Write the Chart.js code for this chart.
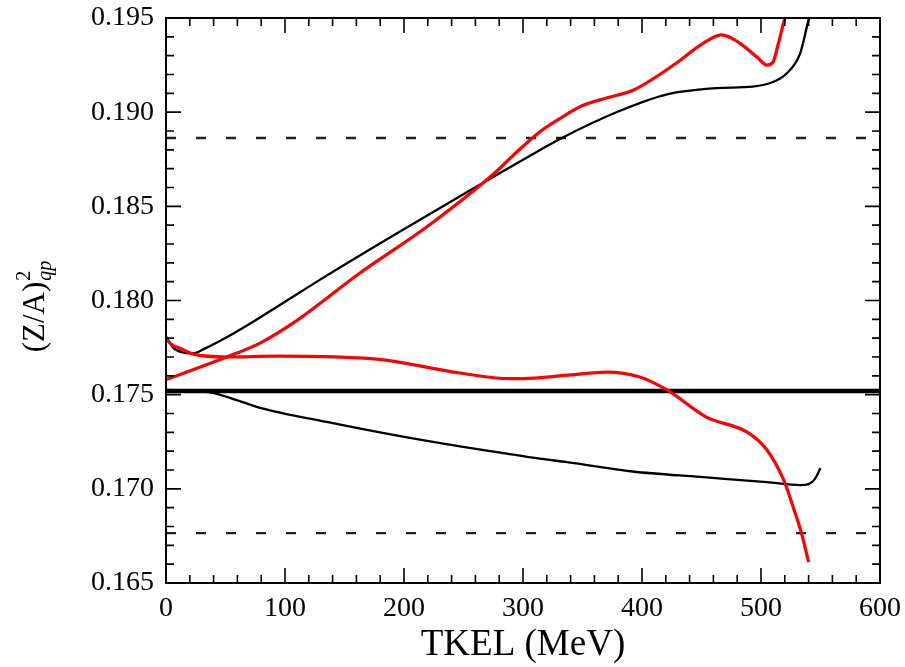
<!DOCTYPE html>
<html>
<head>
<meta charset="utf-8">
<script src="https://cdn.jsdelivr.net/npm/chart.js@4/dist/chart.umd.min.js"></script>
<style>
  html, body { margin: 0; padding: 0; background: #fff; }
  #c { display: block; }
</style>
</head>
<body>
<canvas id="c" width="905" height="667"></canvas>
<script>
// ---- data ----
const xTickLabels = ['0', '100', '200', '300', '400', '500', '600'];
const yTickLabels = ['0.165', '0.170', '0.175', '0.180', '0.185', '0.190', '0.195'];

const blackUpperX = [0, 6, 14, 23, 32, 51, 79, 135, 191, 247, 281, 314, 331, 379, 421, 463, 493, 510, 522, 533, 540, 543];
const blackUpperY = [0.1781, 0.1775, 0.17725, 0.1772, 0.17743, 0.17805, 0.1791, 0.18132, 0.18345, 0.18553, 0.18678, 0.18798, 0.18858, 0.19001, 0.19095, 0.19128, 0.19136, 0.1916, 0.19208, 0.19314, 0.1949, 0.1955];

const blackLowerX = [0, 25, 40, 60, 79, 135, 191, 247, 281, 314, 337, 392, 449, 505, 533, 540, 545, 550];
const blackLowerY = [0.17525, 0.1752, 0.17508, 0.1747, 0.1743, 0.17355, 0.17286, 0.17225, 0.17192, 0.1716, 0.17142, 0.17092, 0.17063, 0.17036, 0.1702, 0.17025, 0.1705, 0.1711];

const redUpperX = [0, 51, 79, 107, 163, 219, 275, 295, 314, 332, 350, 370, 393, 429, 450, 467, 482, 497, 505, 510, 514, 518, 522];
const redUpperY = [0.1758, 0.1770, 0.17774, 0.17881, 0.18146, 0.1839, 0.1867, 0.1879, 0.18895, 0.1897, 0.19035, 0.19075, 0.19118, 0.19261, 0.1936, 0.1941, 0.19367, 0.1929, 0.1925, 0.19265, 0.1935, 0.1945, 0.1955];

const redLowerX = [0, 5, 12, 23, 51, 93, 177, 247, 289, 309, 340, 370, 398, 421, 454, 488, 505, 519, 527, 534, 540];
const redLowerY = [0.17796, 0.17765, 0.17745, 0.17715, 0.1770, 0.17705, 0.17689, 0.17615, 0.17585, 0.17588, 0.17605, 0.1762, 0.17594, 0.17525, 0.17381, 0.17302, 0.17206, 0.17047, 0.16904, 0.16765, 0.16611];

const referenceLineY = 0.1752;       // thick solid line
const dashedUpperY = 0.18863;        // upper dashed line
const dashedLowerY = 0.16765;        // lower dashed line
const xRange = [0, 600];
const yRange = [0.165, 0.195];

// ---- helpers ----
const pts = (xs, ys) => xs.map((x, i) => ({ x: x, y: ys[i] }));
const hline = (y) => [{ x: xRange[0], y: y }, { x: xRange[1], y: y }];

const SERIF = '"Liberation Serif", "DejaVu Serif", serif';

const framePlugin = {
  id: 'frame',
  afterDraw(chart) {
    const ctx = chart.ctx;
    const a = chart.chartArea;
    const xs = chart.scales.x, ys = chart.scales.y;
    ctx.save();
    ctx.strokeStyle = '#000';
    ctx.lineWidth = 2;
    ctx.strokeRect(a.left, a.top, a.right - a.left, a.bottom - a.top);
    ctx.lineWidth = 1.6;
    ctx.beginPath();
    for (let v = 0; v <= 600; v += 20) {
      const p = xs.getPixelForValue(v);
      const len = (v % 100 === 0) ? 15 : 8;
      ctx.moveTo(p, a.bottom); ctx.lineTo(p, a.bottom - len);
      ctx.moveTo(p, a.top); ctx.lineTo(p, a.top + len);
    }
    for (let k = 0; k <= 30; k++) {
      const v = 0.165 + k * 0.001;
      const p = ys.getPixelForValue(v);
      const len = (k % 5 === 0) ? 15 : 8;
      ctx.moveTo(a.left, p); ctx.lineTo(a.left + len, p);
      ctx.moveTo(a.right, p); ctx.lineTo(a.right - len, p);
    }
    ctx.stroke();

    // x axis title
    ctx.fillStyle = '#000';
    ctx.font = '37px ' + SERIF;
    ctx.textAlign = 'center';
    ctx.textBaseline = 'alphabetic';
    ctx.fillText('TKEL (MeV)', (a.left + a.right) / 2, 655);

    // y axis title: (Z/A)^2_qp rotated
    ctx.translate(44, 306);
    ctx.rotate(-Math.PI / 2);
    const mainFont = '31px ' + SERIF;
    const supFont = '20px ' + SERIF;
    const subFont = 'italic 20px ' + SERIF;
    ctx.font = mainFont;
    const wMain = ctx.measureText('(Z/A)').width;
    ctx.font = supFont;
    const wSup = ctx.measureText('2').width;
    ctx.font = subFont;
    const wSub = ctx.measureText('qp').width;
    const total = wMain + Math.max(wSup, wSub) + 2;
    const x0 = -total / 2;
    ctx.textAlign = 'left';
    ctx.font = mainFont;
    ctx.fillText('(Z/A)', x0, 0);
    ctx.font = supFont;
    ctx.fillText('2', x0 + wMain + 1, -14);
    ctx.font = subFont;
    ctx.fillText('qp', x0 + wMain + 1, 7);
    ctx.restore();
  }
};

const base = { pointRadius: 0, fill: false, borderJoinStyle: 'round', borderCapStyle: 'butt' };

new Chart(document.getElementById('c'), {
  type: 'line',
  data: {
    datasets: [
      Object.assign({ data: pts(redUpperX, redUpperY), borderColor: '#ff0000', borderWidth: 3.2, cubicInterpolationMode: 'monotone' }, base),
      Object.assign({ data: pts(redLowerX, redLowerY), borderColor: '#ff0000', borderWidth: 3.2, cubicInterpolationMode: 'monotone' }, base),
      Object.assign({ data: pts(blackUpperX, blackUpperY), borderColor: '#000000', borderWidth: 2.3, cubicInterpolationMode: 'monotone' }, base),
      Object.assign({ data: pts(blackLowerX, blackLowerY), borderColor: '#000000', borderWidth: 2.3, cubicInterpolationMode: 'monotone' }, base),
      Object.assign({ data: hline(referenceLineY), borderColor: '#000000', borderWidth: 4.5 }, base),
      Object.assign({ data: hline(dashedUpperY), borderColor: '#222222', borderWidth: 2.4, borderDash: [10, 20] }, base),
      Object.assign({ data: hline(dashedLowerY), borderColor: '#222222', borderWidth: 2.4, borderDash: [10, 20] }, base)
    ]
  },
  options: {
    responsive: false,
    animation: false,
    devicePixelRatio: 1,
    layout: { padding: { left: 0, top: 18, right: 25, bottom: 0 } },
    plugins: { legend: { display: false }, tooltip: { enabled: false }, title: { display: false } },
    scales: {
      x: {
        type: 'linear', min: xRange[0], max: xRange[1],
        border: { display: false },
        grid: { display: false, drawTicks: false },
        ticks: {
          stepSize: 100, padding: 9, color: '#000', maxRotation: 0, autoSkip: false,
          font: { family: SERIF, size: 28 },
          callback: (v) => { const i = Math.round(v / 100); return (Math.abs(v - i * 100) < 1e-6) ? xTickLabels[i] : ''; }
        },
        afterFit(s) { s.height = 84; s.paddingLeft = 0; s.paddingRight = 0; }
      },
      y: {
        type: 'linear', min: yRange[0], max: yRange[1],
        border: { display: false },
        grid: { display: false, drawTicks: false },
        ticks: {
          stepSize: 0.005, padding: 12, color: '#000', autoSkip: false,
          font: { family: SERIF, size: 28 },
          callback: (v) => { const i = Math.round((v - 0.165) / 0.005); return yTickLabels[i] !== undefined ? yTickLabels[i] : ''; }
        },
        afterFit(s) { s.width = 166; s.paddingTop = 0; s.paddingBottom = 0; }
      }
    }
  },
  plugins: [framePlugin]
});
</script>
</body>
</html>
